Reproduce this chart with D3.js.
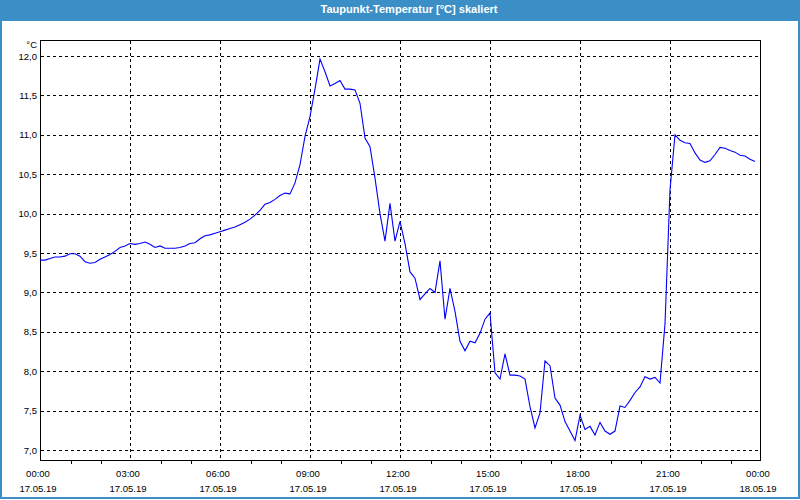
<!DOCTYPE html>
<html><head><meta charset="utf-8">
<script src="https://cdn.jsdelivr.net/npm/d3@7"></script>
<style>
body{margin:0;background:#fff}
svg{display:block}
text{font-family:"Liberation Sans",Arial,sans-serif}
</style>
</head><body>
<svg id="c" width="800" height="500"></svg>
<script>
const chartTitle = "Taupunkt-Temperatur [°C] skaliert";
const unitLabel = "°C";
const yTickValues = [7.0, 7.5, 8.0, 8.5, 9.0, 9.5, 10.0, 10.5, 11.0, 11.5, 12.0];
const xMajorMinutes = [0, 180, 360, 540, 720, 900, 1080, 1260, 1440];
const xMinorMinutes = [60,120,240,300,420,480,600,660,780,840,960,1020,1140,1200,1320,1380];
const xTimeLabels = ["00:00","03:00","06:00","09:00","12:00","15:00","18:00","21:00","00:00"];
const xDateLabels = ["17.05.19","17.05.19","17.05.19","17.05.19","17.05.19","17.05.19","17.05.19","17.05.19","18.05.19"];
const minutes = [
0,10,20,30,40,50,60,70,80,90,100,110,120,130,140,150,160,170,180,190,200,210,220,230,
240,250,260,270,280,290,300,310,320,330,340,350,360,370,380,390,400,410,420,430,440,450,460,470,
480,490,500,510,520,530,540,550,560,570,580,590,600,610,620,630,640,650,660,670,680,690,700,710,
720,730,740,750,760,770,780,790,800,810,820,830,840,850,860,870,880,890,900,910,920,930,940,950,
960,970,980,990,1000,1010,1020,1030,1040,1050,1060,1070,1080,1090,1100,1110,1120,1130,1140,1150,
1160,1170,1180,1190,1200,1210,1220,1230,1240,1250,1260,1270,1280,1290,1300,1310,1320,1330,1340,1350,
1360,1370,1380,1390,1400,1410,1420,1430];
const dewPoint = [
9.41,9.41,9.43,9.45,9.45,9.46,9.49,9.49,9.46,9.39,9.37,9.38,9.42,9.45,9.48,9.52,9.57,9.59,9.62,9.61,9.62,9.64,9.61,9.57,
9.59,9.56,9.56,9.56,9.57,9.59,9.62,9.63,9.68,9.72,9.73,9.75,9.77,9.79,9.81,9.83,9.86,9.89,9.93,9.98,10.04,10.12,10.14,10.18,
10.23,10.26,10.25,10.39,10.62,10.98,11.23,11.58,11.96,11.80,11.62,11.65,11.69,11.58,11.58,11.57,11.40,10.96,10.85,10.45,10.00,9.65,10.13,9.65,
9.90,9.62,9.26,9.18,8.91,8.98,9.05,9.00,9.40,8.66,9.05,8.76,8.38,8.26,8.38,8.36,8.48,8.66,8.74,7.98,7.90,8.22,7.95,7.95,
7.94,7.90,7.55,7.28,7.47,8.13,8.07,7.66,7.57,7.36,7.24,7.12,7.44,7.26,7.30,7.19,7.35,7.24,7.20,7.24,7.56,7.54,7.63,7.73,
7.80,7.93,7.90,7.92,7.85,8.60,10.30,11.00,10.93,10.90,10.89,10.77,10.68,10.65,10.67,10.75,10.84,10.83,10.80,10.78,10.74,10.73,10.69,10.66];

const svg = d3.select("#c");
const W = 800, H = 500;
const pL = 40, pR = 760, pT = 40, pB = 460;
const frameBlue = "#3c8fc6";

// window background + border + title bar
svg.append("rect").attr("x",0).attr("y",0).attr("width",W).attr("height",H).attr("fill","#ffffff");
svg.append("rect").attr("x",0).attr("y",0).attr("width",2).attr("height",H-1).attr("fill",frameBlue);
svg.append("rect").attr("x",W-2).attr("y",0).attr("width",2).attr("height",H-1).attr("fill",frameBlue);
svg.append("rect").attr("x",0).attr("y",H-3).attr("width",W).attr("height",2).attr("fill",frameBlue);
svg.append("rect").attr("x",0).attr("y",0).attr("width",W).attr("height",21).attr("fill",frameBlue);
svg.append("text").attr("x",409).attr("y",13).attr("text-anchor","middle")
  .attr("fill","#ffffff").attr("font-size","11px").attr("font-weight","bold")
  .attr("textLength",177).attr("lengthAdjust","spacingAndGlyphs").text(chartTitle);

const x = d3.scaleLinear().domain([0,1440]).range([pL, pR]);
const y = d3.scaleLinear().domain([7,12]).range([450, 56]);
const px = v => Math.round(v) + 0.5;

// horizontal grid
svg.append("g").selectAll("line").data(yTickValues).join("line")
  .attr("x1", pL+1).attr("x2", pR-2)
  .attr("y1", d=>px(y(d))).attr("y2", d=>px(y(d)))
  .attr("stroke","#000").attr("stroke-dasharray","3,3").attr("shape-rendering","crispEdges");
// vertical grid
svg.append("g").selectAll("line").data(xMajorMinutes.slice(1,-1)).join("line")
  .attr("x1", d=>px(x(d))).attr("x2", d=>px(x(d)))
  .attr("y1", pT+1).attr("y2", pB)
  .attr("stroke","#000").attr("stroke-dasharray","3,3").attr("shape-rendering","crispEdges");

// frame
svg.append("rect").attr("x",pL+0.5).attr("y",pT+0.5).attr("width",pR-pL).attr("height",pB-pT)
  .attr("fill","none").attr("stroke","#000").attr("shape-rendering","crispEdges");

// x axis minor ticks (hourly, between the labelled ones)
const xAxis = d3.axisBottom(x).tickValues(xMinorMinutes).tickSize(3).tickFormat("");
const gx = svg.append("g").attr("transform",`translate(0.5,${pB+0.5})`).call(xAxis);
gx.select(".domain").remove();
gx.selectAll("line").attr("stroke","#000").attr("shape-rendering","crispEdges");

// x labels
const lab = svg.append("g").attr("font-size","9.5px").attr("fill","#000");
lab.selectAll("text.t").data(xMajorMinutes).join("text").attr("class","t")
  .attr("x", d=>x(d)-2).attr("y", 477).attr("text-anchor","middle").text((d,i)=>xTimeLabels[i]);
lab.selectAll("text.d").data(xMajorMinutes).join("text").attr("class","d")
  .attr("x", d=>x(d)-2).attr("y", 492).attr("text-anchor","middle").text((d,i)=>xDateLabels[i]);

// y labels
const fmt = d3.format(".1f");
lab.selectAll("text.y").data(yTickValues).join("text").attr("class","y")
  .attr("x", 37).attr("y", d=>y(d)+3.5).attr("text-anchor","end").text(d=>fmt(d).replace(".",","));
lab.append("text").attr("x",37).attr("y",47.5).attr("text-anchor","end").text(unitLabel);

// data line
const line = d3.line().x((d,i)=>x(minutes[i])).y(d=>y(d));
svg.append("path").datum(dewPoint).attr("d", line)
  .attr("fill","none").attr("stroke","#0000ff").attr("stroke-width",1.1);
</script>
</body></html>
